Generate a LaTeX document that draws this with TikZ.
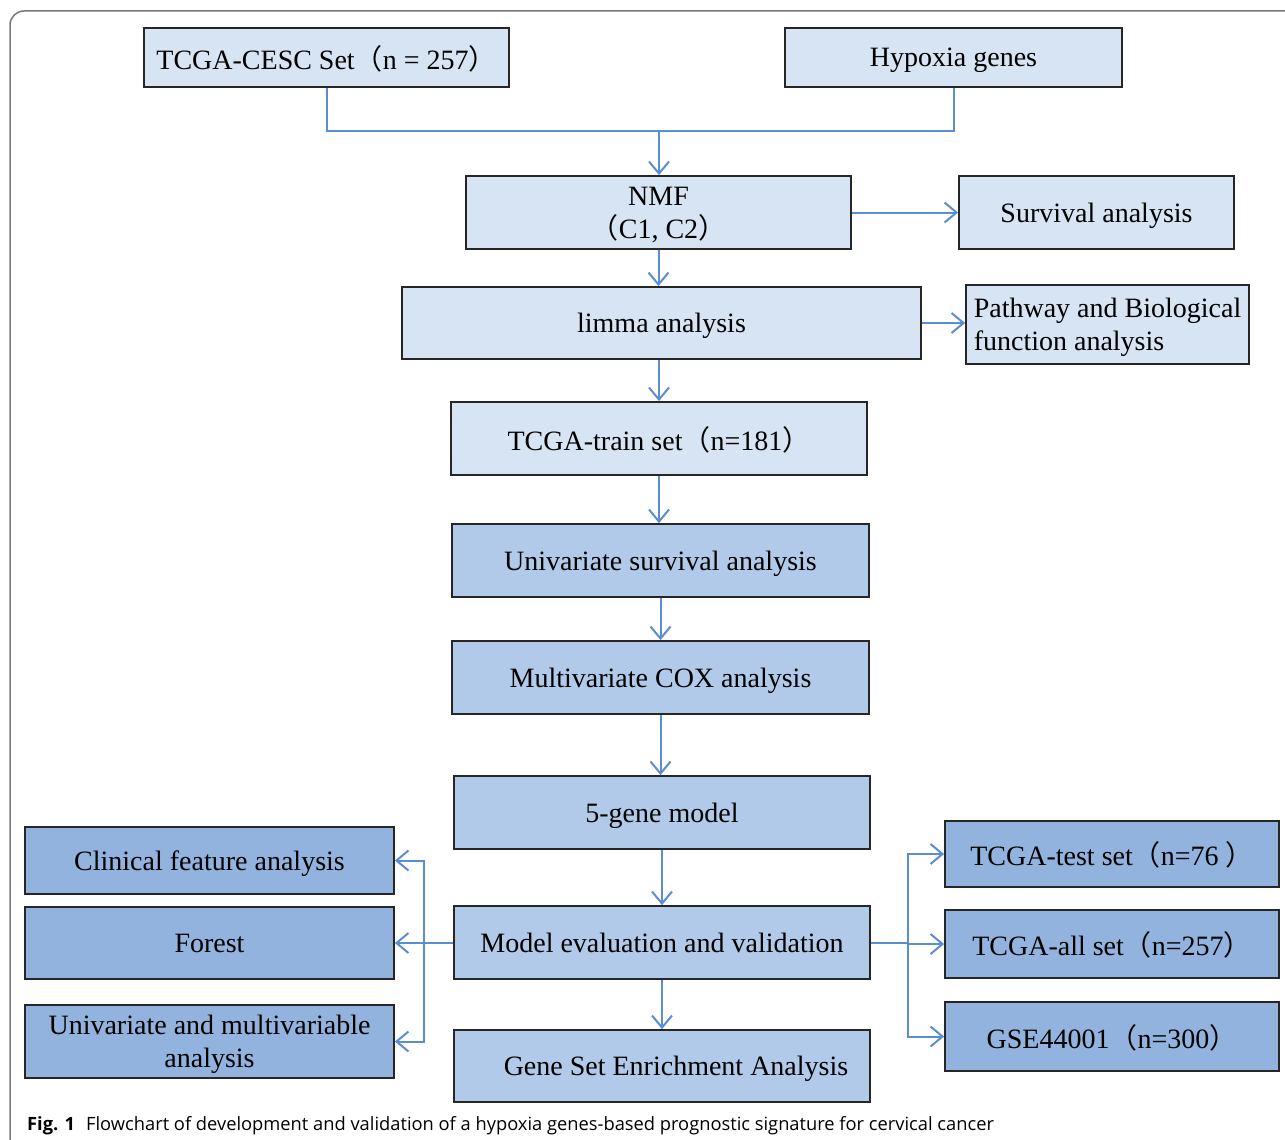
\documentclass[tikz,border=0pt]{standalone}
\usepackage{fontspec}
\setmainfont{Liberation Serif}
\newfontfamily\cjk{Noto Sans CJK SC}
\newfontfamily\capfont{Open Sans}
\usetikzlibrary{arrows.meta}
\newcommand{\lp}{{\cjk （}}
\newcommand{\rp}{{\cjk ）}}
\definecolor{boxlight}{HTML}{D6E4F3}
\definecolor{boxmid}{HTML}{B1CAE9}
\definecolor{boxdark}{HTML}{92B3DE}
\definecolor{arrowblue}{HTML}{5B8ED0}
\definecolor{framegray}{HTML}{777777}
\tikzset{
  box/.style={draw=black!85, line width=1.8pt, inner sep=0pt, align=center,
    text depth=0pt, font=\fontsize{28pt}{33pt}\selectfont},
  lightbox/.style={box, fill=boxlight},
  midbox/.style={box, fill=boxmid},
  darkbox/.style={box, fill=boxdark},
  conn/.style={draw=arrowblue, line width=2pt},
  arr/.style={conn, -{Straight Barb[length=12pt,width=20pt,line width=2pt]}}
}
\begin{document}
\begin{tikzpicture}[x=1pt,y=-1pt]
\useasboundingbox (0,0) rectangle (1285,1140);
\clip (0,0) rectangle (1285,1140);
\fill[white] (0,0) rectangle (1285,1140);
\draw[framegray, line width=1.5pt, rounded corners=14pt] (10,1160) -- (10,11) -- (1300,11);

% top
\node[lightbox, minimum width=365pt, minimum height=59pt] (cesc) at (326.5,57.5) {TCGA-CESC Set\lp n = 257\rp};
\node[lightbox, minimum width=337pt, minimum height=59pt] (hyp) at (953.5,57.5) {Hypoxia genes};
\node[lightbox, minimum width=385pt, minimum height=73pt] (nmf) at (658.5,212.5) {NMF\\\lp C1, C2\rp};
\node[lightbox, minimum width=275pt, minimum height=73pt] (surv) at (1096.5,212.5) {Survival analysis};
\node[lightbox, minimum width=519pt, minimum height=72pt] (limma) at (661.5,323) {limma analysis};
\node[lightbox, minimum width=283pt, minimum height=79pt, align=left] (path) at (1107.5,324.5) {Pathway and Biological\\function analysis};
\node[lightbox, minimum width=416pt, minimum height=73pt] (train) at (659,438.5) {TCGA-train set\lp n=181\rp};

% middle
\node[midbox, minimum width=417pt, minimum height=73pt] (uni) at (660.5,560.5) {Univariate survival analysis};
\node[midbox, minimum width=417pt, minimum height=73pt] (multi) at (660.5,677.5) {Multivariate COX analysis};
\node[midbox, minimum width=416pt, minimum height=73pt] (gene5) at (662,812.5) {5-gene model};
\node[midbox, minimum width=416pt, minimum height=73pt] (eval) at (662,942.5) {Model evaluation and validation};
\node[midbox, minimum width=416pt, minimum height=72pt] (gsea) at (662,1066) {\hspace*{28pt}Gene Set Enrichment Analysis};

% left
\node[darkbox, minimum width=369pt, minimum height=67pt] (clin) at (209.5,860.5) {Clinical feature analysis};
\node[darkbox, minimum width=369pt, minimum height=72pt] (forest) at (209.5,943) {Forest};
\node[darkbox, minimum width=369pt, minimum height=73pt] (univm) at (209.5,1041.5) {Univariate and multivariable\\analysis};

% right
\node[darkbox, minimum width=334pt, minimum height=66pt] (test) at (1112,854) {TCGA-test set\lp n=76 \rp};
\node[darkbox, minimum width=334pt, minimum height=68pt] (all) at (1112,944) {TCGA-all set\lp n=257\rp};
\node[darkbox, minimum width=334pt, minimum height=69pt] (gse) at (1112,1036.5) {GSE44001\lp n=300\rp};

% connectors
\coordinate (join) at (659,131);
\draw[conn] (cesc.south) -- (cesc.south |- join) -- (hyp.south |- join) -- (hyp.south);
\draw[arr] (join) -- (join |- nmf.north);
\draw[arr] (nmf.east) -- (surv.west);
\draw[arr] (nmf.south) -- (nmf.south |- limma.north);
\draw[arr] (limma.east) -- (limma.east -| path.west);
\draw[arr] (train.north |- limma.south) -- (train.north);
\draw[arr] (train.south) -- (train.south |- uni.north);
\draw[arr] (uni.south) -- (uni.south |- multi.north);
\draw[arr] (multi.south) -- (multi.south |- gene5.north);
\draw[arr] (gene5.south) -- (eval.north);
\draw[arr] (eval.south) -- (gsea.north);

\coordinate (lsplit) at (424,942.5);
\draw[conn] (eval.west) -- (lsplit);
\draw[arr] (lsplit) |- (clin.east);
\draw[arr] (lsplit) -- (lsplit |- forest.east) -- (forest.east);
\draw[arr] (lsplit) |- (univm.east);

\coordinate (rsplit) at (908,942.5);
\draw[conn] (eval.east) -- (rsplit);
\draw[arr] (rsplit) |- (test.west);
\draw[arr] (rsplit) |- (all.west);
\draw[arr] (rsplit) |- (gse.west);

% caption
\node[anchor=base west, inner sep=0pt, font=\capfont\fontsize{18.3pt}{22pt}\selectfont] (caption) at (27,1130)
  {\textbf{Fig. 1}\hspace{11pt}Flowchart of development and validation of a hypoxia genes-based prognostic signature for cervical cancer};
\end{tikzpicture}
\end{document}
